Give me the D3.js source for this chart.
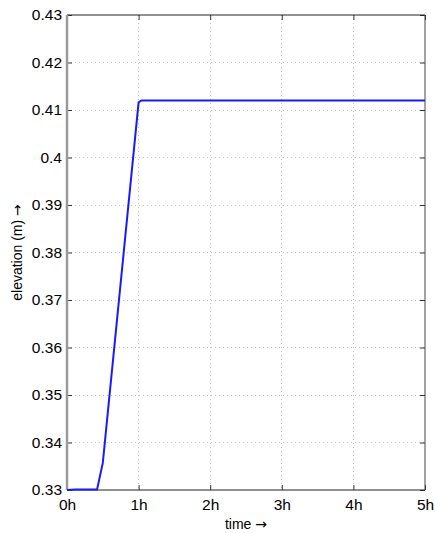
<!DOCTYPE html>
<meta charset="utf-8">
<style>
  body{margin:0;background:#fff;}
  text{font-family:"Liberation Sans",Arial,sans-serif;fill:#000;}
  .grid line{stroke:#b4b4b4;stroke-width:0.8px;stroke-dasharray:1,3;shape-rendering:crispEdges;}
  .tick line{stroke:#333;}
  .domain{display:none;}
  .arrow{font-family:"DejaVu Sans",sans-serif;}
</style>
<body>
<script src="https://cdnjs.cloudflare.com/ajax/libs/d3/7.8.5/d3.min.js"></script>
<script>

  var time=[0,0.12,0.42,0.50,1.0,1.04,5];
  var elevation=[0.33,0.3301,0.3301,0.3357,0.4116,0.412,0.412];
  var xTicks=[0,1,2,3,4,5];
  var yTicks=[0.33,0.34,0.35,0.36,0.37,0.38,0.39,0.40,0.41,0.42,0.43];
  var yTickLabels=["0.33","0.34","0.35","0.36","0.37","0.38","0.39","0.4","0.41","0.42","0.43"];

  var pL=67,pR=425,pT=15,pB=490;
  var svg=d3.select("body").append("svg").attr("width",435).attr("height",533);

  var x=d3.scaleLinear().domain([0,5]).range([pL,pR]);
  var y=d3.scaleLinear().domain([0.33,0.43]).range([pB,pT]);

  // grid
  var grid=svg.append("g").attr("class","grid");
  grid.selectAll(".gx").data(xTicks.slice(1,-1)).enter().append("line")
      .attr("x1",d=>x(d)).attr("x2",d=>x(d)).attr("y1",pT).attr("y2",pB);
  grid.selectAll(".gy").data(yTicks.slice(1,-1)).enter().append("line")
      .attr("x1",pL).attr("x2",pR).attr("y1",d=>y(d)).attr("y2",d=>y(d));

  // axes (ticks inward, mirrored)
  svg.append("g").attr("transform","translate(0,"+pB+")")
     .call(d3.axisBottom(x).tickValues(xTicks).tickFormat(d=>d+"h").tickSizeInner(-5).tickSizeOuter(0).tickPadding(9))
     .selectAll("text").style("font-size","15.5px");
  svg.append("g").attr("transform","translate(0,"+pT+")")
     .call(d3.axisTop(x).tickValues(xTicks).tickFormat("").tickSizeInner(-5).tickSizeOuter(0));
  svg.append("g").attr("transform","translate("+pL+",0)")
     .call(d3.axisLeft(y).tickValues(yTicks).tickFormat((d,i)=>yTickLabels[i]).tickSizeInner(-5).tickSizeOuter(0).tickPadding(5))
     .selectAll("text").style("font-size","15.5px");
  svg.append("g").attr("transform","translate("+pR+",0)")
     .call(d3.axisRight(y).tickValues(yTicks).tickFormat("").tickSizeInner(-5).tickSizeOuter(0));

  // box
  svg.append("line").attr("x1",pL).attr("x2",pR).attr("y1",pT).attr("y2",pT).attr("stroke","#222");
  svg.append("line").attr("x1",pL).attr("x2",pR).attr("y1",pB).attr("y2",pB).attr("stroke","#222");
  svg.append("line").attr("x1",pR).attr("x2",pR).attr("y1",pT).attr("y2",pB).attr("stroke","#444");
  svg.append("line").attr("x1",pL).attr("x2",pL).attr("y1",pT).attr("y2",pB).attr("stroke","#9a9a9a").attr("stroke-width",2.5);

  // data line
  var pts=time.map((t,i)=>[t,elevation[i]]);
  svg.append("path").datum(pts)
     .attr("fill","none").attr("stroke","#1a1aff").attr("stroke-width",2)
     .attr("d",d3.line().x(d=>x(d[0])).y(d=>y(d[1])));

  // labels
  var xl=svg.append("text").attr("x",(pL+pR)/2).attr("y",529).attr("text-anchor","middle")
     .style("font-size","14px");
  xl.append("tspan").text("time ");
  xl.append("tspan").attr("class","arrow").text("\u2192");
  var yl=svg.append("text").attr("transform","translate(22,"+((pT+pB)/2)+") rotate(-90)")
     .attr("text-anchor","middle").style("font-size","14px");
  yl.append("tspan").text("elevation (m) ");
  yl.append("tspan").attr("class","arrow").text("\u2192");
</script>
</body>
</html>
